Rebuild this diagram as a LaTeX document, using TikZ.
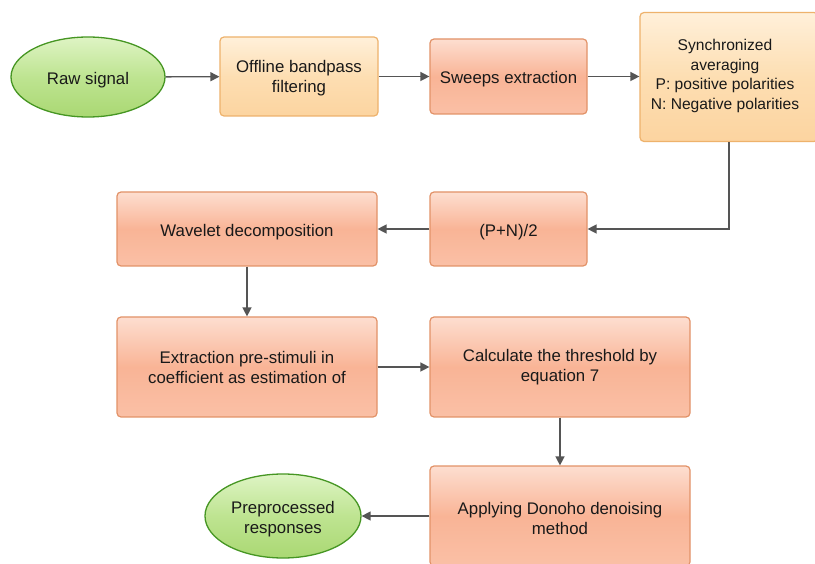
\documentclass[tikz,border=0pt]{standalone}
\usepackage{fontspec}
\setmainfont{Liberation Sans}
\usetikzlibrary{shapes.geometric,arrows.meta}
\definecolor{txt}{RGB}{25,25,25}
\definecolor{conn}{RGB}{85,85,85}
\definecolor{grnline}{RGB}{70,150,35}
\definecolor{grntop}{RGB}{222,244,196}
\definecolor{grnmid}{RGB}{190,228,145}
\definecolor{grnbot}{RGB}{170,216,115}
\definecolor{pchline}{RGB}{238,178,108}
\definecolor{pchtop}{RGB}{255,240,218}
\definecolor{pchmid}{RGB}{253,222,178}
\definecolor{pchbot}{RGB}{252,212,160}
\definecolor{salline}{RGB}{226,146,104}
\definecolor{saltop}{RGB}{253,222,208}
\definecolor{salmid}{RGB}{249,180,150}
\definecolor{salbot}{RGB}{250,192,166}
\tikzset{
  x=1pt, y=-1pt,
  lbl/.style={font=\fontsize{16.8}{20}\selectfont, text=txt, align=center, inner sep=0pt},
  oneline/.style={text height=14.5pt, text depth=0pt},
  greenell/.style={lbl, ellipse, draw=grnline, line width=1.3pt,
    top color=grntop, bottom color=grnbot, middle color=grnmid},
  peachbox/.style={lbl, rectangle, rounded corners=4pt, draw=pchline, line width=1.2pt,
    top color=pchtop, bottom color=pchbot, middle color=pchmid},
  salbox/.style={lbl, rectangle, rounded corners=4pt, draw=salline, line width=1.2pt,
    top color=saltop, bottom color=salbot, middle color=salmid},
  flow/.style={draw=conn, line width=1.4pt, -{Triangle[length=9pt,width=9pt]}}
}
\begin{document}
\begin{tikzpicture}
\clip (0,0) rectangle (815,564);
\fill[white] (0,0) rectangle (815,564);

% first row
\node[greenell, oneline, minimum width=154pt, minimum height=80pt] (raw) at (88,77) {Raw signal};
\node[peachbox, minimum width=158pt, minimum height=79pt] (bp) at (299,76.5) {};
\node[lbl] (bptxt) at (299,78.5) {Offline bandpass\\filtering};
\node[salbox, oneline, minimum width=157pt, minimum height=75pt] (sw) at (508.5,76.5) {Sweeps extraction};
\node[peachbox, minimum width=178pt, minimum height=129pt] (sync) at (729,77) {};
\node[lbl, font=\fontsize{15.6}{19.5}\selectfont] (synctxt) at (725,76) {Synchronized\\averaging\\P: positive polarities\\N: Negative polarities};

% second row
\node[salbox, oneline, minimum width=157pt, minimum height=74pt] (pn) at (508.5,229) {(P+N)/2};
\node[salbox, oneline, minimum width=260pt, minimum height=74pt] (wd) at (247,229) {Wavelet decomposition};

% third row
\node[salbox, minimum width=260pt, minimum height=100pt] (ex) at (247,367) {Extraction pre-stimuli in\\coefficient as estimation of};
\node[salbox, minimum width=260pt, minimum height=100pt] (th) at (560,367) {Calculate the threshold by\\equation 7};

% last row
\node[salbox, minimum width=260pt, minimum height=100pt] (dn) at (560,516) {};
\node[lbl] (dntxt) at (560,518) {Applying Donoho denoising\\method};
\node[greenell, minimum width=156pt, minimum height=84pt] (out) at (283,516) {};
\node[lbl] (outtxt) at (283,519.5) {Preprocessed\\responses};

% connectors
\draw[flow] (raw) -- (bp);
\draw[flow] (bp) -- (sw);
\draw[flow] (sw) -- (sync.west |- sw.east);
\draw[flow] (sync.south) |- (pn.east);
\draw[flow] (pn) -- (wd);
\draw[flow] (wd) -- (ex);
\draw[flow] (ex) -- (th);
\draw[flow] (th) -- (dn);
\draw[flow] (dn) -- (out);
\end{tikzpicture}
\end{document}
